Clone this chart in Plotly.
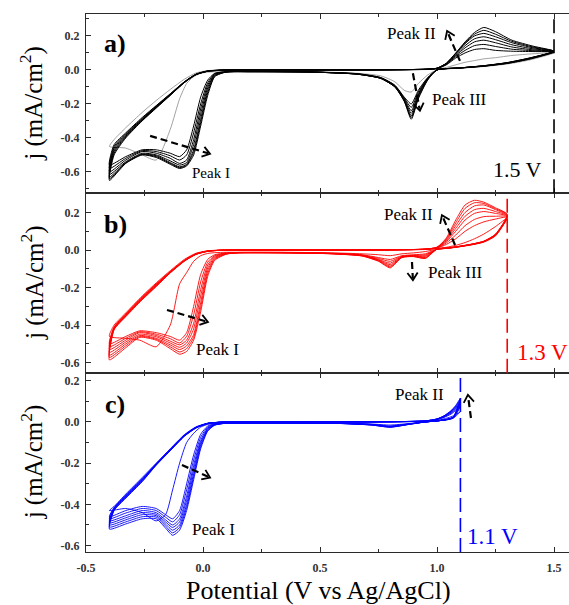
import math
import plotly.graph_objects as go

# ---------------- data ----------------
# Panel a) black, vertex 1.5 V
Vc_a = [1.50, 1.40, 1.30, 1.20, 1.10, 1.00, 0.96, 0.92, 0.89, 0.86, 0.82, 0.76, 0.66, 0.45, 0.20, 0.10,
        0.05, 0.02, -0.01, -0.04, -0.07, -0.10, -0.14, -0.20, -0.26, -0.33, -0.40]
Va_a = [-0.40, -0.38, -0.33, -0.26, -0.20, -0.14, -0.08, -0.03, 0.02, 0.08, 0.20, 0.50, 0.80, 0.95,
        1.00, 1.04, 1.08, 1.12, 1.16, 1.20, 1.25, 1.32, 1.41, 1.50]
jc_a = [
    [0.100, 0.060, 0.035, 0.020, 0.010, 0.000, -0.030, -0.080, -0.130, -0.120, -0.070, -0.035, -0.020, -0.010,
     -0.010, -0.010, -0.011, -0.013, -0.020, -0.040, -0.080, -0.170, -0.350, -0.530, -0.500, -0.460, -0.450],
    [0.105, 0.065, 0.038, 0.022, 0.011, 0.000, -0.045, -0.120, -0.200, -0.160, -0.090, -0.045, -0.022, -0.012,
     -0.010, -0.011, -0.020, -0.060, -0.160, -0.330, -0.470, -0.510, -0.490, -0.470, -0.470, -0.510, -0.560],
    [0.106, 0.066, 0.039, 0.022, 0.011, 0.000, -0.048, -0.130, -0.220, -0.165, -0.092, -0.046, -0.023, -0.012,
     -0.010, -0.011, -0.022, -0.075, -0.200, -0.370, -0.500, -0.530, -0.505, -0.480, -0.475, -0.520, -0.580],
    [0.108, 0.068, 0.040, 0.023, 0.012, 0.000, -0.050, -0.140, -0.240, -0.170, -0.095, -0.048, -0.024, -0.012,
     -0.010, -0.011, -0.025, -0.090, -0.230, -0.410, -0.530, -0.550, -0.520, -0.490, -0.480, -0.530, -0.600],
    [0.109, 0.069, 0.041, 0.024, 0.012, 0.000, -0.052, -0.148, -0.255, -0.175, -0.098, -0.049, -0.025, -0.012,
     -0.010, -0.012, -0.028, -0.105, -0.260, -0.440, -0.545, -0.560, -0.535, -0.500, -0.490, -0.540, -0.615],
    [0.110, 0.070, 0.042, 0.024, 0.012, 0.000, -0.055, -0.155, -0.270, -0.180, -0.100, -0.050, -0.025, -0.012,
     -0.010, -0.012, -0.032, -0.120, -0.290, -0.470, -0.555, -0.570, -0.545, -0.505, -0.495, -0.545, -0.630],
    [0.110, 0.071, 0.043, 0.025, 0.012, 0.000, -0.058, -0.163, -0.280, -0.183, -0.100, -0.050, -0.025, -0.012,
     -0.010, -0.012, -0.036, -0.135, -0.310, -0.485, -0.560, -0.575, -0.550, -0.510, -0.498, -0.548, -0.640],
    [0.110, 0.072, 0.043, 0.025, 0.012, 0.000, -0.060, -0.170, -0.290, -0.185, -0.100, -0.050, -0.025, -0.012,
     -0.010, -0.012, -0.040, -0.150, -0.330, -0.500, -0.565, -0.580, -0.555, -0.515, -0.500, -0.550, -0.650],
]
ja_a = [
    [-0.450, -0.410, -0.340, -0.250, -0.180, -0.115, -0.055, -0.018, -0.004, 0.000, 0.000, 0.000, 0.000, 0.002,
     0.005, 0.015, 0.030, 0.045, 0.055, 0.065, 0.072, 0.085, 0.095, 0.100],
    [-0.560, -0.440, -0.370, -0.280, -0.210, -0.140, -0.070, -0.025, -0.006, -0.001, 0.000, 0.000, 0.001, 0.003,
     0.008, 0.030, 0.070, 0.100, 0.120, 0.125, 0.115, 0.110, 0.108, 0.105],
    [-0.580, -0.450, -0.375, -0.285, -0.212, -0.142, -0.071, -0.025, -0.006, -0.001, 0.000, 0.000, 0.001, 0.003,
     0.008, 0.032, 0.078, 0.115, 0.143, 0.150, 0.138, 0.122, 0.113, 0.106],
    [-0.600, -0.460, -0.380, -0.290, -0.215, -0.145, -0.072, -0.026, -0.007, -0.001, 0.000, 0.000, 0.001, 0.004,
     0.009, 0.035, 0.085, 0.130, 0.165, 0.175, 0.160, 0.135, 0.118, 0.108],
    [-0.615, -0.470, -0.385, -0.292, -0.218, -0.146, -0.073, -0.027, -0.007, -0.002, 0.000, 0.000, 0.001, 0.004,
     0.010, 0.037, 0.090, 0.143, 0.183, 0.195, 0.178, 0.148, 0.124, 0.109],
    [-0.630, -0.480, -0.390, -0.295, -0.220, -0.148, -0.074, -0.027, -0.008, -0.002, 0.000, 0.000, 0.001, 0.004,
     0.010, 0.038, 0.095, 0.155, 0.200, 0.215, 0.195, 0.160, 0.130, 0.110],
    [-0.640, -0.490, -0.395, -0.298, -0.222, -0.149, -0.075, -0.028, -0.008, -0.002, 0.000, 0.000, 0.001, 0.004,
     0.010, 0.039, 0.098, 0.160, 0.210, 0.233, 0.210, 0.168, 0.135, 0.110],
    [-0.650, -0.500, -0.400, -0.300, -0.225, -0.150, -0.075, -0.028, -0.008, -0.002, 0.000, 0.000, 0.001, 0.004,
     0.010, 0.040, 0.100, 0.165, 0.220, 0.250, 0.225, 0.175, 0.140, 0.110],
]

# Panel b) red, vertex 1.3 V
Vc_b = [1.30, 1.25, 1.20, 1.15, 1.10, 1.05, 1.00, 0.95, 0.90, 0.85, 0.80, 0.75, 0.68, 0.55, 0.35, 0.15, 0.10,
        0.05, 0.02, -0.01, -0.04, -0.07, -0.10, -0.14, -0.20, -0.27, -0.33, -0.40]
Va_b = [-0.40, -0.38, -0.33, -0.26, -0.20, -0.14, -0.08, -0.03, 0.02, 0.08, 0.20, 0.50, 0.80, 0.95, 1.00,
        1.04, 1.08, 1.12, 1.16, 1.20, 1.25, 1.30]
jc_b = [
    [0.170, 0.075, 0.042, 0.028, 0.018, 0.010, 0.004, -0.008, -0.015, -0.020, -0.030, -0.025, -0.020, -0.015,
     -0.012, -0.012, -0.012, -0.014, -0.018, -0.030, -0.060, -0.120, -0.180, -0.400, -0.515, -0.480, -0.470, -0.460],
    [0.175, 0.078, 0.044, 0.029, 0.019, 0.010, 0.004, -0.020, -0.025, -0.030, -0.050, -0.040, -0.025, -0.017,
     -0.013, -0.013, -0.015, -0.025, -0.050, -0.130, -0.300, -0.440, -0.480, -0.460, -0.440, -0.430, -0.460, -0.500],
    [0.178, 0.079, 0.044, 0.030, 0.019, 0.010, 0.004, -0.025, -0.028, -0.033, -0.060, -0.045, -0.027, -0.018,
     -0.013, -0.013, -0.016, -0.030, -0.065, -0.170, -0.345, -0.460, -0.495, -0.472, -0.448, -0.435, -0.470, -0.515],
    [0.180, 0.080, 0.045, 0.030, 0.020, 0.011, 0.004, -0.030, -0.030, -0.035, -0.070, -0.050, -0.028, -0.018,
     -0.014, -0.014, -0.018, -0.035, -0.080, -0.210, -0.390, -0.480, -0.505, -0.485, -0.455, -0.440, -0.480, -0.530],
    [0.183, 0.081, 0.046, 0.031, 0.020, 0.011, 0.005, -0.035, -0.031, -0.037, -0.078, -0.053, -0.029, -0.019,
     -0.015, -0.015, -0.019, -0.040, -0.095, -0.245, -0.420, -0.495, -0.518, -0.495, -0.462, -0.448, -0.490, -0.545],
    [0.185, 0.082, 0.046, 0.031, 0.020, 0.011, 0.005, -0.040, -0.032, -0.038, -0.085, -0.055, -0.030, -0.019,
     -0.015, -0.015, -0.020, -0.045, -0.110, -0.280, -0.450, -0.510, -0.530, -0.505, -0.470, -0.455, -0.500, -0.560],
    [0.188, 0.084, 0.047, 0.032, 0.021, 0.012, 0.005, -0.043, -0.034, -0.039, -0.090, -0.058, -0.031, -0.020,
     -0.015, -0.015, -0.021, -0.050, -0.125, -0.305, -0.465, -0.525, -0.543, -0.515, -0.475, -0.460, -0.510, -0.572],
    [0.190, 0.085, 0.047, 0.032, 0.021, 0.012, 0.005, -0.045, -0.035, -0.040, -0.095, -0.060, -0.032, -0.020,
     -0.015, -0.015, -0.022, -0.055, -0.140, -0.330, -0.480, -0.540, -0.555, -0.525, -0.480, -0.465, -0.520, -0.585],
]
ja_b = [
    [-0.460, -0.400, -0.335, -0.245, -0.175, -0.110, -0.050, -0.017, -0.004, 0.000, 0.000, 0.000, 0.001, 0.003,
     0.008, 0.015, 0.025, 0.040, 0.060, 0.085, 0.125, 0.170],
    [-0.500, -0.410, -0.340, -0.250, -0.180, -0.115, -0.055, -0.020, -0.005, -0.001, 0.000, 0.000, 0.001, 0.004,
     0.010, 0.030, 0.060, 0.100, 0.130, 0.150, 0.165, 0.175],
    [-0.515, -0.412, -0.342, -0.252, -0.182, -0.116, -0.056, -0.020, -0.005, -0.001, 0.000, 0.000, 0.001, 0.004,
     0.011, 0.038, 0.080, 0.130, 0.163, 0.178, 0.180, 0.178],
    [-0.530, -0.415, -0.345, -0.255, -0.185, -0.118, -0.057, -0.021, -0.006, -0.001, 0.000, 0.000, 0.001, 0.004,
     0.012, 0.045, 0.100, 0.160, 0.195, 0.205, 0.195, 0.180],
    [-0.545, -0.418, -0.348, -0.258, -0.188, -0.119, -0.058, -0.022, -0.006, -0.001, 0.000, 0.000, 0.001, 0.005,
     0.013, 0.050, 0.115, 0.180, 0.215, 0.222, 0.205, 0.183],
    [-0.560, -0.420, -0.350, -0.260, -0.190, -0.120, -0.058, -0.022, -0.006, -0.001, 0.000, 0.000, 0.001, 0.005,
     0.014, 0.055, 0.130, 0.200, 0.235, 0.240, 0.215, 0.185],
    [-0.572, -0.422, -0.352, -0.262, -0.192, -0.121, -0.059, -0.023, -0.007, -0.001, 0.000, 0.000, 0.001, 0.005,
     0.015, 0.060, 0.145, 0.222, 0.252, 0.248, 0.220, 0.188],
    [-0.585, -0.425, -0.355, -0.265, -0.195, -0.122, -0.060, -0.023, -0.007, -0.001, 0.000, 0.000, 0.001, 0.005,
     0.015, 0.065, 0.160, 0.240, 0.265, 0.255, 0.225, 0.190],
]

# Panel c) blue, vertex 1.1 V
Vc_c = [1.10, 1.07, 1.04, 1.00, 0.95, 0.88, 0.80, 0.72, 0.60, 0.40, 0.20, 0.10, 0.05, 0.02, -0.01, -0.04,
        -0.07, -0.10, -0.13, -0.16, -0.20, -0.26, -0.33, -0.40]
Va_c = [-0.40, -0.38, -0.33, -0.26, -0.20, -0.14, -0.08, -0.03, 0.02, 0.08, 0.20, 0.50, 0.80, 0.95, 1.00,
        1.03, 1.06, 1.08, 1.10]
jc_c = [
    [0.050, 0.018, 0.010, 0.005, 0.000, -0.008, -0.015, -0.010, -0.006, -0.005, -0.005, -0.006, -0.008, -0.012,
     -0.025, -0.055, -0.100, -0.200, -0.330, -0.450, -0.480, -0.440, -0.420, -0.430],
    [0.075, 0.020, 0.010, 0.005, 0.000, -0.009, -0.020, -0.012, -0.007, -0.005, -0.005, -0.006, -0.010, -0.020,
     -0.060, -0.160, -0.300, -0.430, -0.470, -0.450, -0.420, -0.410, -0.430, -0.460],
    [0.082, 0.021, 0.011, 0.005, 0.000, -0.010, -0.021, -0.012, -0.007, -0.005, -0.005, -0.006, -0.011, -0.025,
     -0.075, -0.185, -0.330, -0.450, -0.485, -0.462, -0.430, -0.420, -0.442, -0.470],
    [0.090, 0.022, 0.011, 0.005, 0.000, -0.010, -0.022, -0.013, -0.007, -0.005, -0.005, -0.006, -0.012, -0.030,
     -0.090, -0.210, -0.360, -0.470, -0.500, -0.475, -0.440, -0.430, -0.455, -0.480],
    [0.098, 0.022, 0.012, 0.005, 0.000, -0.011, -0.023, -0.014, -0.008, -0.005, -0.005, -0.006, -0.013, -0.034,
     -0.100, -0.230, -0.380, -0.485, -0.512, -0.485, -0.448, -0.440, -0.465, -0.490],
    [0.105, 0.023, 0.012, 0.005, 0.000, -0.011, -0.024, -0.014, -0.008, -0.005, -0.005, -0.006, -0.014, -0.038,
     -0.110, -0.250, -0.400, -0.500, -0.525, -0.495, -0.455, -0.450, -0.475, -0.500],
    [0.110, 0.024, 0.012, 0.005, 0.000, -0.012, -0.025, -0.015, -0.008, -0.005, -0.005, -0.006, -0.015, -0.042,
     -0.120, -0.265, -0.415, -0.512, -0.538, -0.505, -0.462, -0.460, -0.485, -0.510],
    [0.115, 0.025, 0.012, 0.005, 0.000, -0.012, -0.026, -0.015, -0.008, -0.005, -0.005, -0.006, -0.016, -0.045,
     -0.130, -0.280, -0.430, -0.525, -0.550, -0.515, -0.470, -0.470, -0.495, -0.520],
]
ja_c = [
    [-0.430, -0.410, -0.350, -0.270, -0.200, -0.130, -0.062, -0.024, -0.006, -0.001, 0.000, 0.000, 0.000, 0.003,
     0.008, 0.015, 0.025, 0.035, 0.050],
    [-0.460, -0.415, -0.355, -0.275, -0.203, -0.133, -0.065, -0.026, -0.007, -0.001, 0.000, 0.000, 0.001, 0.004,
     0.011, 0.022, 0.038, 0.055, 0.075],
    [-0.470, -0.418, -0.358, -0.278, -0.205, -0.135, -0.066, -0.026, -0.007, -0.001, 0.000, 0.000, 0.001, 0.004,
     0.012, 0.024, 0.042, 0.060, 0.082],
    [-0.480, -0.420, -0.360, -0.280, -0.206, -0.136, -0.067, -0.027, -0.007, -0.001, 0.000, 0.000, 0.001, 0.004,
     0.013, 0.026, 0.046, 0.066, 0.090],
    [-0.490, -0.422, -0.362, -0.282, -0.207, -0.137, -0.068, -0.027, -0.008, -0.001, 0.000, 0.000, 0.001, 0.005,
     0.013, 0.027, 0.048, 0.070, 0.098],
    [-0.500, -0.425, -0.365, -0.285, -0.208, -0.138, -0.068, -0.028, -0.008, -0.001, 0.000, 0.000, 0.001, 0.005,
     0.014, 0.028, 0.051, 0.073, 0.105],
    [-0.510, -0.428, -0.368, -0.288, -0.209, -0.139, -0.069, -0.029, -0.008, -0.001, 0.000, 0.000, 0.001, 0.005,
     0.014, 0.029, 0.053, 0.077, 0.110],
    [-0.520, -0.430, -0.370, -0.290, -0.210, -0.140, -0.070, -0.030, -0.008, -0.001, 0.000, 0.000, 0.001, 0.005,
     0.015, 0.030, 0.055, 0.080, 0.115],
]

vertex_potentials = [1.5, 1.3, 1.1]
vertex_labels = ["1.5 V", "1.3 V", "1.1 V"]
panel_labels = ["a)", "b)", "c)"]

x_tickvals = [-0.5, 0.0, 0.5, 1.0, 1.5]
x_ticktext = ["-0.5", "0.0", "0.5", "1.0", "1.5"]
y_tickvals = [-0.6, -0.4, -0.2, 0.0, 0.2]
y_ticktext = ["-0.6", "-0.4", "-0.2", "0.0", "0.2"]

# ---------------- layout constants ----------------
W, H = 569, 605
ML, MR, MT, MB = 86, 0, 14, 53
PW = W - ML - MR
PH = (H - MT - MB) / 3.0
XR = [-0.5, 1.564]
YR = [[-0.726, 0.329], [-0.653, 0.302], [-0.631, 0.239]]
DOM = [[2 / 3, 1.0], [1 / 3, 2 / 3], [0.0, 1 / 3]]
FONT = "Liberation Serif"
INK = "#2a2a2a"

fig = go.Figure()

n_a = len(jc_a)
panels = [
    (Vc_a, Va_a, jc_a, ja_a, ["#8a8a8a"] + ["#000000"] * (n_a - 1), 1.0),
    (Vc_b, Va_b, jc_b, ja_b, ["#ff0000"] * len(jc_b), 0.9),
    (Vc_c, Va_c, jc_c, ja_c, ["#0000ff"] * len(jc_c), 0.9),
]

for p, (vc, va, jcs, jas, cols, lw) in enumerate(panels):
    xa = "x" if p == 0 else f"x{p+1}"
    ya = "y" if p == 0 else f"y{p+1}"
    for k, (jc, ja) in enumerate(zip(jcs, jas)):
        fig.add_trace(go.Scatter(
            x=vc + va[1:], y=jc + ja[1:], mode="lines",
            line=dict(color=cols[k], width=(0.8 if (p == 0 and k == 0) else lw),
                      shape="spline", smoothing=0.6),
            xaxis=xa, yaxis=ya, showlegend=False, hoverinfo="skip"))

shapes = []
annotations = []

sx = PW / (XR[1] - XR[0])


def add_arrow(p, x0, y0, x1, y1):
    xa = "x" if p == 0 else f"x{p+1}"
    ya = "y" if p == 0 else f"y{p+1}"
    sy = PH / (YR[p][1] - YR[p][0])
    dx, dy = (x1 - x0) * sx, (y1 - y0) * sy
    L = math.hypot(dx, dy)
    ux, uy = dx / L, dy / L
    arm, ang = 9.0, math.radians(35)
    pts = []
    for s in (1, -1):
        c, sn = math.cos(s * ang), math.sin(s * ang)
        rx = -ux * c + uy * sn
        ry = -ux * sn - uy * c
        pts.append((x1 + rx * arm / sx, y1 + ry * arm / sy))
    shapes.append(dict(type="line", xref=xa, yref=ya, x0=x0, y0=y0,
                       x1=x1 - ux * 2 / sx, y1=y1 - uy * 2 / sy,
                       line=dict(color="black", width=2.2, dash="7px,4px")))
    path = f"M {pts[0][0]},{pts[0][1]} L {x1},{y1} L {pts[1][0]},{pts[1][1]}"
    shapes.append(dict(type="path", xref=xa, yref=ya, path=path,
                       line=dict(color="black", width=1.8)))


def add_text(p, x, y, text, size, color="black"):
    xa = "x" if p == 0 else f"x{p+1}"
    ya = "y" if p == 0 else f"y{p+1}"
    annotations.append(dict(x=x, y=y, xref=xa, yref=ya, text=text, showarrow=False,
                            font=dict(family=FONT, size=size, color=color),
                            xanchor="center", yanchor="middle"))


# panel a
add_arrow(0, -0.226, -0.388, 0.03, -0.494)
add_arrow(0, 1.098, 0.053, 1.043, 0.229)
add_arrow(0, 0.897, -0.02, 0.927, -0.24)
add_text(0, -0.376, 0.153, "<b>" + panel_labels[0] + "</b>", 26)
add_text(0, 0.034, -0.606, "Peak I", 15)
add_text(0, 0.893, 0.212, "Peak II", 17)
add_text(0, 1.098, -0.176, "Peak III", 17)
add_text(0, 1.346, -0.588, vertex_labels[0], 22)
# panel b
add_arrow(1, -0.154, -0.319, 0.021, -0.383)
add_arrow(1, 1.077, 0.027, 1.021, 0.186)
add_arrow(1, 0.893, -0.064, 0.897, -0.16)
add_text(1, -0.376, 0.138, "<b>" + panel_labels[1] + "</b>", 26)
add_text(1, 0.064, -0.527, "Peak I", 17)
add_text(1, 0.88, 0.19, "Peak II", 17)
add_text(1, 1.077, -0.117, "Peak III", 17)
add_text(1, 1.449, -0.543, vertex_labels[1], 23, color="#ff0000")
# panel c
add_arrow(2, -0.09, -0.209, 0.03, -0.27)
add_arrow(2, 1.145, 0.019, 1.132, 0.131)
add_text(2, -0.376, 0.083, "<b>" + panel_labels[2] + "</b>", 26)
add_text(2, 0.043, -0.52, "Peak I", 17)
add_text(2, 0.927, 0.131, "Peak II", 17)
add_text(2, 1.239, -0.558, vertex_labels[2], 23, color="#0000ff")

vcols = ["black", "#ff0000", "#0000ff"]
for p in range(3):
    xa = "x" if p == 0 else f"x{p+1}"
    shapes.append(dict(type="line", xref=xa, yref=("y" if p == 0 else f"y{p+1}") + " domain",
                       x0=vertex_potentials[p], x1=vertex_potentials[p], y0=0, y1=1,
                       line=dict(color=vcols[p], width=1.6, dash="14px,6px")))

# y titles
for p in range(3):
    yc = (DOM[p][0] + DOM[p][1]) / 2
    annotations.append(dict(x=-(ML - 32) / PW, y=yc, xref="paper", yref="paper",
                            text="j (mA/cm<sup>2</sup>)", textangle=-90, showarrow=False,
                            font=dict(family=FONT, size=25, color="black"),
                            xanchor="center", yanchor="middle"))
# x title
annotations.append(dict(x=(318 - ML) / PW, y=-(590 - (H - MB)) / (H - MT - MB), xref="paper", yref="paper",
                        text="Potential (V vs Ag/AgCl)", showarrow=False,
                        font=dict(family=FONT, size=26, color="black"),
                        xanchor="center", yanchor="middle"))

tickfont = dict(family=FONT, size=12, color="#333333", weight="bold")

layout = dict(
    width=W, height=H, margin=dict(l=ML, r=MR, t=MT, b=MB, autoexpand=False),
    paper_bgcolor="white", plot_bgcolor="white", font=dict(family=FONT),
    shapes=shapes, annotations=annotations, showlegend=False,
)
for p in range(3):
    xk = "xaxis" if p == 0 else f"xaxis{p+1}"
    yk = "yaxis" if p == 0 else f"yaxis{p+1}"
    ya = "y" if p == 0 else f"y{p+1}"
    xa = "x" if p == 0 else f"x{p+1}"
    layout[xk] = dict(range=XR, domain=[0, 1], anchor=ya, showline=True, linecolor=INK, linewidth=1.2,
                      mirror="ticks", ticks="inside", ticklen=5, tickwidth=1.2, tickcolor=INK,
                      tickmode="array", tickvals=x_tickvals, ticktext=x_ticktext,
                      minor=dict(ticks="inside", ticklen=3, tickwidth=1.1, tickcolor=INK,
                                 tickmode="linear", tick0=0.0, dtick=0.25),
                      showticklabels=(p == 2), tickfont=tickfont, ticklabelstandoff=4,
                      showgrid=False, zeroline=False, fixedrange=True)
    layout[yk] = dict(range=YR[p], domain=DOM[p], anchor=xa, showline=True, linecolor=INK, linewidth=1.2,
                      mirror=False, ticks="inside", ticklen=5, tickwidth=1.2, tickcolor=INK,
                      tickmode="array", tickvals=y_tickvals, ticktext=y_ticktext,
                      minor=dict(ticks="inside", ticklen=3, tickwidth=1, tickcolor=INK,
                                 tickmode="linear", tick0=0.0, dtick=0.1),
                      tickfont=tickfont, ticklabelstandoff=3,
                      showgrid=False, zeroline=False, fixedrange=True)

fig.update_layout(**layout)
fig.write_html("out.html")
